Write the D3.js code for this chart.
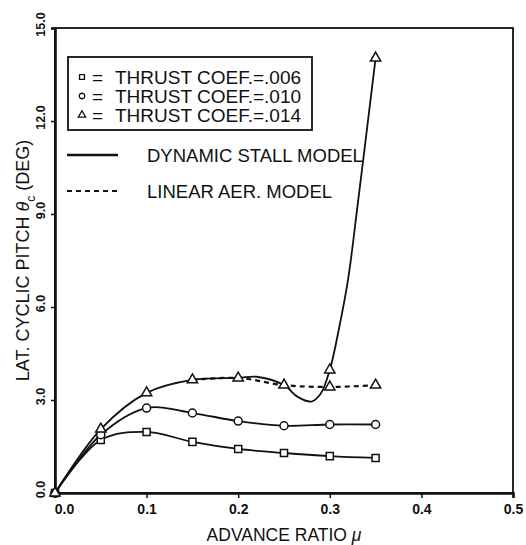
<!DOCTYPE html>
<html><head><meta charset="utf-8">
<script src="https://cdn.jsdelivr.net/npm/d3@7"></script>
<style>
html,body{margin:0;padding:0;background:#fff;}
svg text{font-family:"Liberation Sans",Arial,Helvetica,sans-serif;fill:#111;}
</style></head>
<body><svg id="c" width="526" height="545"></svg>
<script>
// ---- data ----
const mu = [0, 0.05, 0.1, 0.15, 0.2, 0.25, 0.3, 0.35];
const ct006 = [0, 1.71, 1.97, 1.65, 1.42, 1.29, 1.19, 1.13];
const ct010 = [0, 1.88, 2.74, 2.58, 2.32, 2.17, 2.21, 2.21];
const ct014Dyn = [0, 2.06, 3.23, 3.65, 3.71, 3.48, 3.97, 14.03];
const ct014LinMu = [0.15, 0.2, 0.25, 0.3, 0.35];
const ct014Lin = [3.65, 3.71, 3.48, 3.42, 3.48];
// faired dynamic-stall line for CT=.014
const dynTraceMu = [0, 0.05, 0.1, 0.15, 0.2, 0.22, 0.25, 0.265, 0.28, 0.29, 0.3, 0.31, 0.32, 0.33, 0.34, 0.35];
const dynTraceVal = [0, 2.06, 3.23, 3.65, 3.71, 3.75, 3.48, 3.1, 2.95, 3.2, 3.97, 5.3, 6.9, 9.2, 11.6, 14.03];
const xTicks = [0, 0.1, 0.2, 0.3, 0.4, 0.5];
const yTicks = [0, 3, 6, 9, 12, 15];
const legendRows = ["THRUST COEF.=.006", "THRUST COEF.=.010", "THRUST COEF.=.014"];
const legendLines = ["DYNAMIC STALL MODEL", "LINEAR AER. MODEL"];

const svg = d3.select("#c");
const m = {left:55, top:28, right:13, bottom:52};
const W = 526, H = 545;
const x = d3.scaleLinear().domain([0, 0.5]).range([m.left, W - m.right]);
const y = d3.scaleLinear().domain([0, 15]).range([H - m.bottom, m.top]);

// frame
svg.append("rect").attr("x", x(0)).attr("y", y(15))
  .attr("width", x(0.5) - x(0)).attr("height", y(0) - y(15))
  .attr("fill", "none").attr("stroke", "#111").attr("stroke-width", 1.8);

// axes
const xAxis = svg.append("g").attr("transform", `translate(0,${y(0)})`)
  .call(d3.axisBottom(x).tickValues(xTicks).tickSize(5).tickFormat(d3.format(".1f")));
xAxis.select(".domain").attr("stroke", "#111").attr("stroke-width", 2.6);
xAxis.selectAll(".tick line").attr("stroke", "#111").attr("stroke-width", 1.5);
xAxis.selectAll(".tick text").attr("font-size", 14).attr("font-weight", "bold").attr("y", 11)
  .attr("dx", d => d === 0 ? 9 : 0).attr("fill", "#111");

const yAxis = svg.append("g").attr("transform", `translate(${x(0)},0)`)
  .call(d3.axisLeft(y).tickValues(yTicks).tickSize(4).tickFormat(d3.format(".1f")));
yAxis.select(".domain").attr("stroke", "#111").attr("stroke-width", 2.6);
yAxis.selectAll(".tick line").attr("stroke", "#111").attr("stroke-width", 1.5);
yAxis.selectAll(".tick text").attr("font-size", 12.5).attr("font-weight", "bold").attr("fill", "#111")
  .attr("transform", "rotate(-90)").attr("x", 4).attr("y", -10)
  .attr("text-anchor", "middle").attr("dy", 0);

// axis titles
svg.append("text").attr("x", (x(0) + x(0.5)) / 2).attr("y", 541)
  .attr("text-anchor", "middle").attr("font-size", 17.5)
  .text("ADVANCE RATIO ").append("tspan").attr("font-style", "italic").text("μ");

const yt = svg.append("text").attr("transform", `translate(29,${(y(0) + y(15)) / 2}) rotate(-90)`)
  .attr("text-anchor", "middle").attr("font-size", 18);
yt.append("tspan").text("LAT. CYCLIC PITCH ");
yt.append("tspan").attr("font-style", "italic").text("θ");
yt.append("tspan").attr("font-size", 12).attr("dy", 6).text("c");
yt.append("tspan").attr("dy", -6).text(" (DEG)");

// curves
const line = d3.line().x(d => x(d[0])).y(d => y(d[1])).curve(d3.curveCatmullRom.alpha(0.5));
const pts = (xs, ys) => xs.map((v, i) => [v, ys[i]]);
const g = svg.append("g").attr("fill", "none").attr("stroke", "#111").attr("stroke-width", 1.8);
g.append("path").attr("d", line(pts(mu, ct006)));
g.append("path").attr("d", line(pts(mu, ct010)));
g.append("path").attr("d", line(pts(dynTraceMu, dynTraceVal)));
g.append("path").attr("d", line(pts(ct014LinMu, ct014Lin))).attr("stroke-dasharray", "5,4").attr("stroke-width", 2.2);

// markers
const mk = svg.append("g").attr("fill", "#fff").attr("stroke", "#111").attr("stroke-width", 1.5);
const sq = d3.symbol().type(d3.symbolSquare).size(50);
const ci = d3.symbol().type(d3.symbolCircle).size(50);
const tr = d3.symbol().type(d3.symbolTriangle).size(46);
function drawMarks(xs, ys, sym) {
  mk.selectAll(null).data(pts(xs, ys)).join("path")
    .attr("transform", d => `translate(${x(d[0])},${y(d[1])})`).attr("d", sym());
}
drawMarks(mu, ct006, sq);
drawMarks(mu, ct010, ci);
drawMarks(mu, ct014Dyn, tr);
drawMarks(ct014LinMu.slice(3), ct014Lin.slice(3), tr);

// legend box
const lg = svg.append("g");
lg.append("rect").attr("x", 68).attr("y", 57).attr("width", 244).attr("height", 73)
  .attr("fill", "#fff").attr("stroke", "#111").attr("stroke-width", 1.8);
const syms = [sq, ci, tr];
legendRows.forEach((t, i) => {
  const cy = 77 + i * 19;
  lg.append("path").attr("transform", `translate(82,${cy})`).attr("d", syms[i].size(24)())
    .attr("fill", "#fff").attr("stroke", "#111").attr("stroke-width", 1.3);
  lg.append("text").attr("x", 92).attr("y", cy + 7).attr("font-size", 19).text("=");
  lg.append("text").attr("x", 115).attr("y", cy + 7).attr("font-size", 19).text(t);
});
legendLines.forEach((t, i) => {
  const cy = 155 + i * 36;
  lg.append("line").attr("x1", 67).attr("x2", 118).attr("y1", cy).attr("y2", cy)
    .attr("stroke", "#111").attr("stroke-width", i ? 2.2 : 2.4)
    .attr("stroke-dasharray", i ? "5,4" : null);
  lg.append("text").attr("x", 147).attr("y", cy + 7).attr("font-size", 18.5).text(t);
});
</script></body></html>
